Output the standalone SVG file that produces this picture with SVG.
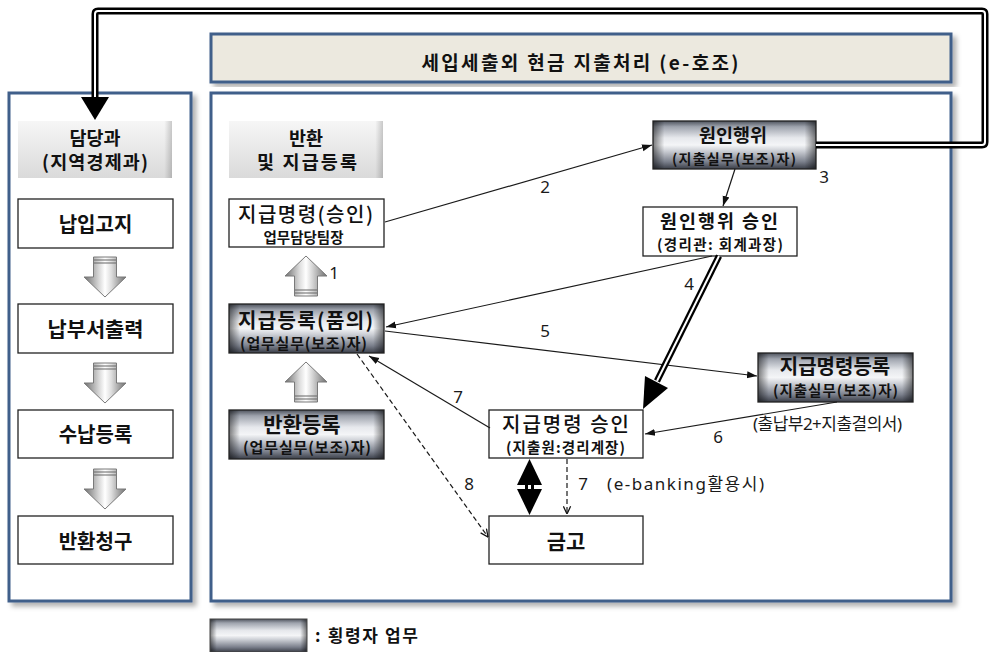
<svg xmlns="http://www.w3.org/2000/svg" width="989" height="652" viewBox="0 0 989 652">
<style>
.panel{fill:#fff;stroke:#3f5f8a;stroke-width:3}
.box{fill:#fff;stroke:#222;stroke-width:1.3}
.mb{fill:url(#metalEdge);stroke:#222;stroke-width:1.3}
.t{font-family:"Noto Sans CJK KR","Noto Sans",sans-serif;fill:#111;text-anchor:middle}
.b{font-weight:bold}
.lbl{font-family:"Noto Sans","Noto Sans CJK KR",sans-serif;font-size:17px;fill:#1a1a1a;text-anchor:middle}
.ln{stroke:#1a1a1a;stroke-width:1.2;fill:none}
.dl{stroke:#1a1a1a;stroke-width:1.2;fill:none;stroke-dasharray:5,3}
.ar3{fill:url(#arrowFill);stroke:#7a7a7a;stroke-width:1}
</style>
<defs>
<linearGradient id="metal" x1="0" y1="0" x2="0" y2="1">
<stop offset="0" stop-color="#4e535d"/>
<stop offset="0.12" stop-color="#9ea3ad"/>
<stop offset="0.35" stop-color="#e6e8ec"/>
<stop offset="0.5" stop-color="#f4f5f7"/>
<stop offset="0.62" stop-color="#cdd0d6"/>
<stop offset="0.85" stop-color="#7b808c"/>
<stop offset="1" stop-color="#3a3e48"/>
</linearGradient>
<linearGradient id="metalEdge" x1="0" y1="0" x2="1" y2="0">
<stop offset="0" stop-color="#000" stop-opacity="0.5"/>
<stop offset="0.07" stop-color="#000" stop-opacity="0"/>
<stop offset="0.93" stop-color="#000" stop-opacity="0"/>
<stop offset="1" stop-color="#000" stop-opacity="0.5"/>
</linearGradient>
<linearGradient id="hdr" x1="0" y1="0" x2="0" y2="1">
<stop offset="0" stop-color="#f6f6f6"/>
<stop offset="1" stop-color="#dadada"/>
</linearGradient>
<linearGradient id="hdrEdge" x1="0" y1="0" x2="1" y2="0">
<stop offset="0" stop-color="#000" stop-opacity="0"/>
<stop offset="0.95" stop-color="#000" stop-opacity="0"/>
<stop offset="1" stop-color="#000" stop-opacity="0.18"/>
</linearGradient>
<linearGradient id="arrowFill" x1="0" y1="0" x2="1" y2="0">
<stop offset="0" stop-color="#6e6e6e"/>
<stop offset="0.35" stop-color="#dedede"/>
<stop offset="0.5" stop-color="#ffffff"/>
<stop offset="0.65" stop-color="#d6d6d6"/>
<stop offset="1" stop-color="#6e6e6e"/>
</linearGradient>
<filter id="shadow" x="-5%" y="-5%" width="115%" height="115%">
<feDropShadow dx="4" dy="4" stdDeviation="2.5" flood-color="#000" flood-opacity="0.3"/>
</filter>
<marker id="ah" viewBox="0 0 10 10" refX="10" refY="5" markerWidth="10" markerHeight="10" markerUnits="userSpaceOnUse" orient="auto">
<path d="M0,1.5 L10,5 L0,8.5 Z" fill="#111"/>
</marker>
<marker id="av" viewBox="0 0 10 10" refX="9.5" refY="5" markerWidth="9" markerHeight="9" markerUnits="userSpaceOnUse" orient="auto">
<path d="M1,1 L9.5,5 L1,9" fill="none" stroke="#111" stroke-width="1.4"/>
</marker>
<g id="up3d">
<path class="ar3" d="M0,0 L21,20 L11.5,20 L11.5,40 L-11.5,40 L-11.5,20 L-21,20 Z"/>
<path d="M-11,34 H11 M-11,37 H11" stroke="#666" stroke-width="1.2"/>
</g>
</defs>

<g id="leftPanel">
<rect class="panel" x="9" y="93" width="182" height="508" filter="url(#shadow)"/>
</g>
<g id="titleBox">
<rect x="211" y="34" width="740" height="48" fill="#ece9df" stroke="#3f5f8a" stroke-width="3" filter="url(#shadow)"/>
<text class="t b" x="580" y="70" font-size="19" textLength="317" lengthAdjust="spacing">세입세출외 현금 지출처리 (e-호조)</text>
</g>
<g id="mainPanel">
<rect class="panel" x="211" y="93" width="740" height="508" filter="url(#shadow)"/>
</g>

<g id="hdrLeft">
<rect x="18" y="121" width="154" height="57" fill="url(#hdr)"/>
<rect x="18" y="121" width="154" height="57" fill="url(#hdrEdge)"/>
<text class="t b" x="95" y="145" font-size="18.5">담당과</text>
<text class="t b" x="95" y="169" font-size="18.5" textLength="106" lengthAdjust="spacing">(지역경제과)</text>
</g>
<g id="n_napip">
<rect class="box" x="18" y="199" width="155" height="49"/>
<text class="t b" x="95.5" y="232" font-size="20">납입고지</text>
</g>
<g id="n_napbu">
<rect class="box" x="18" y="304" width="155" height="49"/>
<text class="t b" x="95.5" y="337" font-size="20" textLength="96" lengthAdjust="spacingAndGlyphs">납부서출력</text>
</g>
<g id="n_sunap">
<rect class="box" x="18" y="410" width="155" height="48"/>
<text class="t b" x="95.5" y="442" font-size="20">수납등록</text>
</g>
<g id="n_banhwanCh">
<rect class="box" x="18" y="516" width="155" height="48"/>
<text class="t b" x="95.5" y="549" font-size="20">반환청구</text>
</g>
<g id="leftArrows">
<use href="#up3d" transform="translate(105,297) rotate(180)"/>
<use href="#up3d" transform="translate(105,403) rotate(180)"/>
<use href="#up3d" transform="translate(105,509) rotate(180)"/>
</g>

<g id="hdrMain">
<rect x="229" y="121" width="154" height="57" fill="url(#hdr)"/>
<rect x="229" y="121" width="154" height="57" fill="url(#hdrEdge)"/>
<text class="t b" x="306" y="145" font-size="18.5">반환</text>
<text class="t b" x="307" y="169" font-size="18.5" textLength="100" lengthAdjust="spacing">및 지급등록</text>
</g>
<g id="n_jigeupSeungin">
<rect class="box" x="229" y="199" width="155" height="48"/>
<text class="t" x="305.5" y="222" font-size="20" font-weight="500" textLength="135" lengthAdjust="spacing">지급명령(승인)</text>
<text class="t b" x="303.5" y="243" font-size="14.5">업무담당팀장</text>
</g>
<g id="n_jigeupDeungrok">
<rect x="229" y="304" width="155" height="49" fill="url(#metal)"/>
<rect class="mb" x="229" y="304" width="155" height="49"/>
<text class="t b" x="305.5" y="328" font-size="20" textLength="135" lengthAdjust="spacing">지급등록(품의)</text>
<text class="t b" x="303.5" y="349" font-size="15" textLength="127" lengthAdjust="spacing">(업무실무(보조)자)</text>
</g>
<g id="n_banhwanDeungrok">
<rect x="229" y="410" width="155" height="49" fill="url(#metal)"/>
<rect class="mb" x="229" y="410" width="155" height="49"/>
<text class="t b" x="302" y="432" font-size="21">반환등록</text>
<text class="t b" x="307" y="453" font-size="15" textLength="128" lengthAdjust="spacing">(업무실무(보조)자)</text>
</g>
<g id="mainArrows">
<use href="#up3d" transform="translate(306,256)"/>
<use href="#up3d" transform="translate(306,362)"/>
</g>
<g id="n_wonin">
<rect x="653" y="121" width="163" height="48" fill="url(#metal)"/>
<rect class="mb" x="653" y="121" width="163" height="48"/>
<text class="t b" x="733" y="142" font-size="18.5">원인행위</text>
<text class="t b" x="734" y="164" font-size="14" textLength="124" lengthAdjust="spacing">(지출실무(보조)자)</text>
</g>
<g id="n_woninSeungin">
<rect class="box" x="643" y="207" width="154" height="49"/>
<text class="t b" x="719" y="228" font-size="18.5" textLength="118" lengthAdjust="spacing">원인행위 승인</text>
<text class="t b" x="720" y="250" font-size="14.5" textLength="126" lengthAdjust="spacing">(경리관: 회계과장)</text>
</g>
<g id="n_jigeupMyeongDeungrok">
<rect x="758" y="353" width="155" height="49" fill="url(#metal)"/>
<rect class="mb" x="758" y="353" width="155" height="49"/>
<text class="t b" x="835" y="374" font-size="20">지급명령등록</text>
<text class="t b" x="835.5" y="396" font-size="14.5" textLength="125" lengthAdjust="spacing">(지출실무(보조)자)</text>
</g>
<g id="n_jigeupMyeongSeungin">
<rect class="box" x="489" y="410" width="154" height="48"/>
<text class="t" x="565.5" y="432" font-size="20" font-weight="500" textLength="127" lengthAdjust="spacing">지급명령 승인</text>
<text class="t b" x="565.5" y="453" font-size="14.5" textLength="119" lengthAdjust="spacing">(지출원:경리계장)</text>
</g>
<g id="n_geumgo">
<rect class="box" x="489" y="516" width="154" height="48"/>
<text class="t b" x="566" y="549" font-size="21">금고</text>
</g>

<g id="connectors">
<path d="M816,145 H982 Q985,145 985,142 V14 Q985,11 982,11 H98 Q95,11 95,14 V100" fill="none" stroke="#000" stroke-width="7"/>
<path d="M816,145 H982 Q985,145 985,142 V14 Q985,11 982,11 H98 Q95,11 95,14 V100" fill="none" stroke="#fff" stroke-width="2"/>
<polygon points="81,97 109,97 95,120" fill="#000"/>
<line class="ln" x1="385" y1="222" x2="652" y2="145" marker-end="url(#ah)"/>
<line class="ln" x1="735" y1="169" x2="723" y2="206" marker-end="url(#ah)"/>
<line class="ln" x1="712" y1="256" x2="386" y2="327" marker-end="url(#ah)"/>
<line class="ln" x1="385" y1="331" x2="757" y2="376" marker-end="url(#ah)"/>
<line class="ln" x1="837" y1="402" x2="645" y2="434" marker-end="url(#ah)"/>
<line class="ln" x1="490" y1="428" x2="369" y2="356" marker-end="url(#ah)"/>
<line class="dl" x1="357" y1="354" x2="488" y2="537" marker-end="url(#av)"/>
<line class="dl" x1="567" y1="459" x2="567" y2="514" marker-end="url(#av)"/>
<line x1="719" y1="256" x2="657" y2="381" stroke="#000" stroke-width="6.5"/>
<line x1="719" y1="256" x2="657" y2="381" stroke="#fff" stroke-width="2"/>
<polygon points="643,409 645,376 668,388" fill="#000"/>
<polygon points="529.5,459 542,485 517,485" fill="#000"/>
<rect x="525" y="485" width="3" height="4" fill="#000"/>
<rect x="531" y="485" width="3" height="4" fill="#000"/>
<polygon points="517,489 542,489 529.5,515" fill="#000"/>
</g>

<g id="labels">
<text class="lbl" x="334" y="279">1</text>
<text class="lbl" x="545" y="193">2</text>
<text class="lbl" x="824" y="183">3</text>
<text class="lbl" x="689" y="290">4</text>
<text class="lbl" x="545" y="337">5</text>
<text class="lbl" x="718" y="443">6</text>
<text class="lbl" x="458" y="403">7</text>
<text class="lbl" x="469" y="490">8</text>
<text class="lbl" x="583" y="490">7</text>
<text class="lbl" x="685.5" y="490" font-size="18" textLength="157" lengthAdjust="spacing">(e-banking활용시)</text>
<text class="lbl" x="827.5" y="430" font-size="15.5" textLength="149" lengthAdjust="spacing">(출납부2+지출결의서)</text>
</g>

<g id="legend">
<rect x="210" y="619" width="97" height="33" fill="url(#metal)"/>
<rect x="210" y="619" width="97" height="33" fill="url(#metalEdge)" stroke="#444" stroke-width="1"/>
<text class="t b" x="315" y="642" font-size="17" style="text-anchor:start" textLength="103" lengthAdjust="spacing">: 횡령자 업무</text>
</g>
</svg>
